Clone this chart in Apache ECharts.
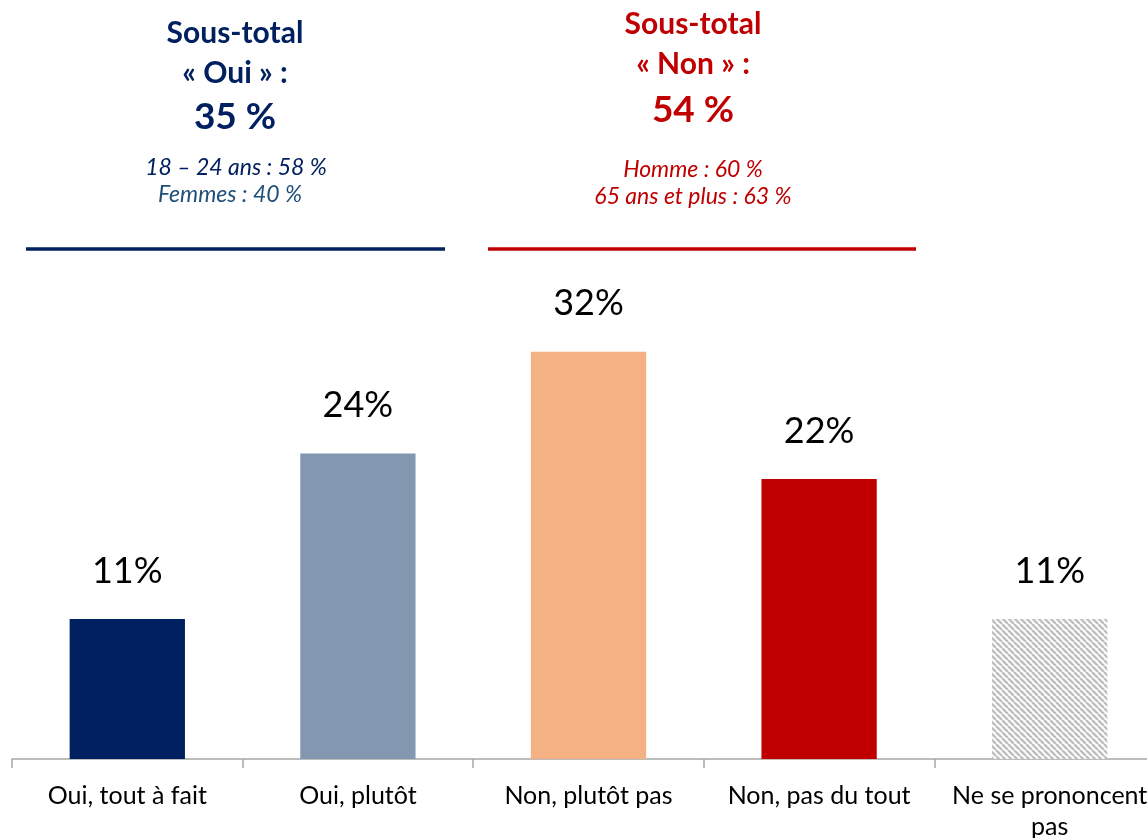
<!DOCTYPE html>
<html><head><meta charset="utf-8">
<script src="https://cdn.jsdelivr.net/npm/echarts@6/dist/echarts.min.js"></script>
<style>html,body{margin:0;padding:0;background:#fff;}#c{width:1147px;height:838px;}</style>
</head><body><div id="c"></div>
<script>
const categories = ['Oui, tout à fait', 'Oui, plutôt', 'Non, plutôt pas', 'Non, pas du tout', 'Ne se prononcent\npas'];
const values = [11, 24, 32, 22, 11];
const ouiHeader = ['Sous-total', '« Oui » :', '35 %'];
const ouiDetails = ['18 – 24 ans : 58 %', 'Femmes : 40 %'];
const nonHeader = ['Sous-total', '« Non » :', '54 %'];
const nonDetails = ['Homme : 60 %', '65 ans et plus : 63 %'];

const FONT = 'Lato, "Open Sans", sans-serif';
const navy = '#002060', red = '#C00000';

// hatched pattern
const pc = document.createElement('canvas');
pc.width = 6; pc.height = 6;
const g = pc.getContext('2d');
g.fillStyle = '#fff'; g.fillRect(0,0,6,6);
g.strokeStyle = '#BFBFBF'; g.lineWidth = 2.4;
g.beginPath();
for (let k = -6; k <= 12; k += 6) { g.moveTo(k, 0); g.lineTo(k + 6, 6); }
g.stroke();

const barColors = [navy, '#8497B0', '#F4B183', red, {image: pc, repeat: 'repeat'}];

function txt(x, y, s, size, color, bold, italic) {
  return {type:'text', x:x, y:y, style:{text:s, x:0, y:0, fill:color, align:'center', verticalAlign:'middle',
    font:(italic?'italic ':'') + (bold?'bold ':'') + size + 'px ' + FONT}};
}

const chart = echarts.init(document.getElementById('c'));
chart.setOption({
  animation:false,
  grid:{left:12, right:-18, top:250, bottom:79, containLabel:false, outerBoundsMode:'none'},
  xAxis:{type:'category', data:categories,
    axisLine:{lineStyle:{color:'#A6A6A6', width:1.5}},
    axisTick:{show:true, length:9, lineStyle:{color:'#A6A6A6', width:1.5}},
    axisLabel:{color:'#000', fontSize:25, fontFamily:FONT, margin:21, lineHeight:31, interval:0, hideOverlap:false}},
  yAxis:{type:'value', min:0, max:40, show:false, splitLine:{show:false}},
  series:[{type:'bar', barWidth:'50%',
    data: values.map((v,i)=>({value:v, itemStyle:{color:barColors[i]}})),
    label:{show:true, position:'top', distance:30, formatter:'{c}%', color:'#000', fontSize:36, fontFamily:FONT}}],
  graphic:[
    txt(235, 33, ouiHeader[0], 30, navy, true),
    txt(235, 73, ouiHeader[1], 30, navy, true),
    txt(235, 117, ouiHeader[2], 37, navy, true),
    txt(236, 168, ouiDetails[0], 23, navy, false, true),
    txt(230, 195, ouiDetails[1], 23, '#1F4E79', false, true),
    {type:'line', shape:{x1:26, y1:249, x2:445, y2:249}, style:{stroke:navy, lineWidth:3.5}},
    txt(693, 24, nonHeader[0], 30, red, true),
    txt(693, 64, nonHeader[1], 30, red, true),
    txt(693, 110, nonHeader[2], 37, red, true),
    txt(693, 170, nonDetails[0], 23, red, false, true),
    txt(693, 197, nonDetails[1], 23, red, false, true),
    {type:'line', shape:{x1:488, y1:249, x2:916, y2:249}, style:{stroke:red, lineWidth:3.5}}
  ]
});
</script></body></html>
